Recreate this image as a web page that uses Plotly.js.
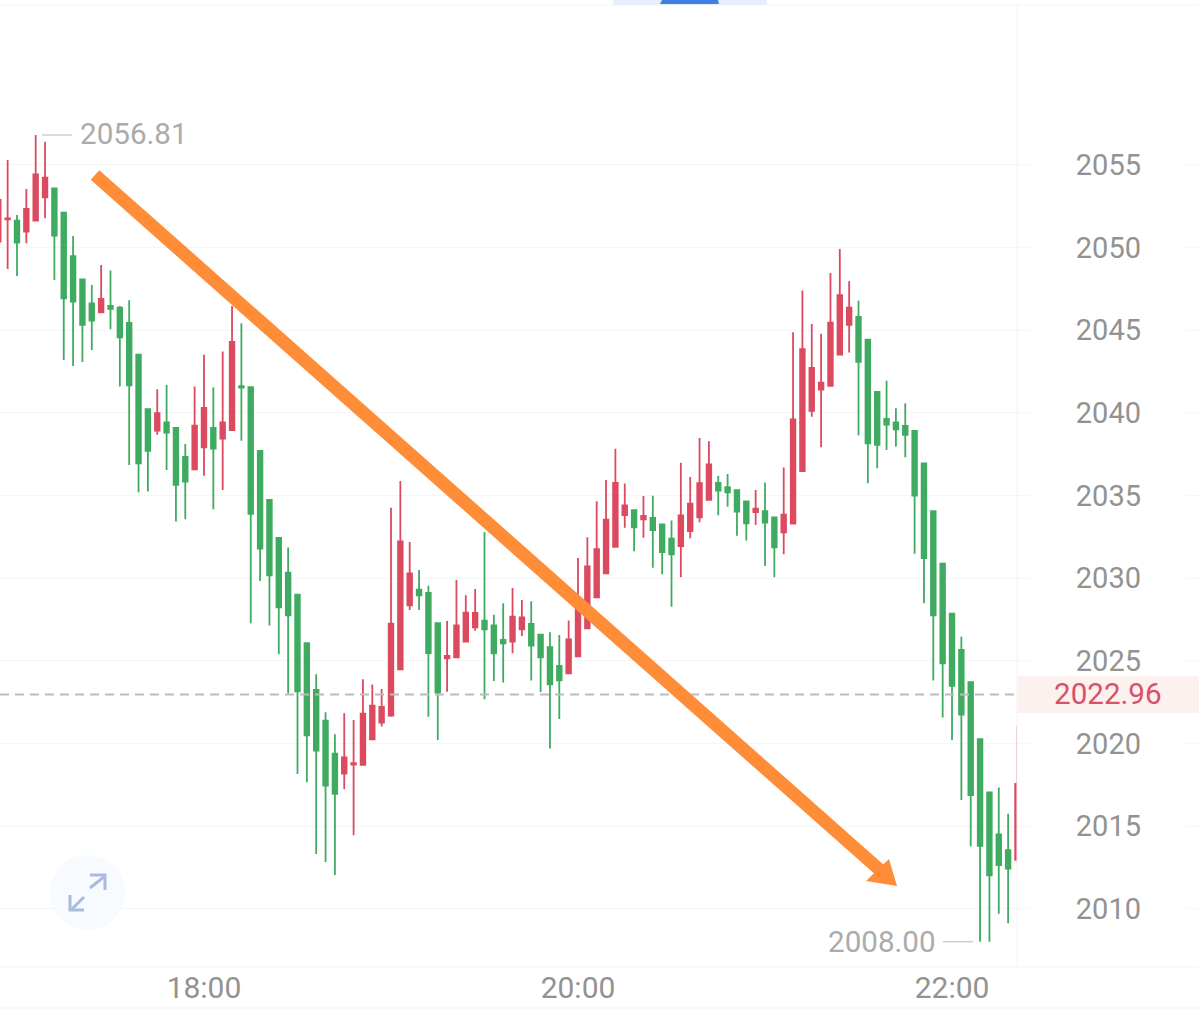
<!DOCTYPE html>
<html>
<head>
<meta charset="utf-8">
<script src="https://cdn.plot.ly/plotly-3.0.1.min.js"></script>
<style>html,body{margin:0;padding:0;background:#fff;overflow:hidden}#chart{width:1199px;height:1011px}</style>
</head>
<body>
<div id="chart"></div>
<script>
const times = ["16:54","16:57","17:00","17:03","17:06","17:09","17:12","17:15","17:18","17:21","17:24","17:27","17:30","17:33","17:36","17:39","17:42","17:45","17:48","17:51","17:54","17:57",
"18:00","18:03","18:06","18:09","18:12","18:15","18:18","18:21","18:24","18:27","18:30","18:33","18:36","18:39","18:42","18:45","18:48","18:51","18:54","18:57",
"19:00","19:03","19:06","19:09","19:12","19:15","19:18","19:21","19:24","19:27","19:30","19:33","19:36","19:39","19:42","19:45","19:48","19:51","19:54","19:57",
"20:00","20:03","20:06","20:09","20:12","20:15","20:18","20:21","20:24","20:27","20:30","20:33","20:36","20:39","20:42","20:45","20:48","20:51","20:54","20:57",
"21:00","21:03","21:06","21:09","21:12","21:15","21:18","21:21","21:24","21:27","21:30","21:33","21:36","21:39","21:42","21:45","21:48","21:51","21:54","21:57",
"22:00","22:03","22:06","22:09","22:12","22:15","22:18","22:21"];
const open = [2050.36,2051.71,2051.63,2050.97,2051.63,2053.04,2053.59,2052.12,2049.49,2048.08,2046.63,2046.09,2046.47,2046.37,2045.44,2043.53,2040.22,2038.93,2039.43,2039.09,2037.34,2036.59,
2037.92,2039.09,2038.45,2038.95,2041.61,2041.55,2037.70,2034.73,2032.43,2030.33,2029.00,2026.06,2023.23,2021.38,2019.38,2018.17,2018.72,2018.70,2020.25,2021.26,
2021.68,2024.48,2028.35,2029.30,2029.10,2027.27,2025.15,2025.21,2026.16,2027.02,2027.43,2027.14,2026.26,2026.16,2026.90,2027.23,2026.58,2025.83,2024.69,2024.24,
2025.27,2026.96,2028.84,2030.29,2031.90,2033.82,2034.12,2033.56,2033.64,2033.25,2032.39,2031.94,2032.85,2033.68,2034.73,2035.77,2035.51,2035.33,2034.65,2034.00,
2034.06,2033.68,2032.77,2033.30,2036.47,2040.12,2041.41,2041.63,2043.52,2045.32,2045.80,2044.43,2041.27,2039.63,2039.43,2039.21,2038.91,2036.95,2034.05,2030.88,
2027.85,2025.66,2023.70,2020.25,2017.03,2014.49,2013.54,2012.95];
const high = [2052.88,2055.30,2051.97,2053.55,2056.81,2056.41,2053.59,2052.12,2050.70,2048.08,2047.74,2048.95,2048.61,2046.47,2046.81,2043.53,2040.22,2041.43,2041.69,2039.09,2038.12,2041.59,
2043.51,2041.55,2043.71,2046.47,2045.42,2041.55,2037.70,2034.73,2032.43,2031.86,2029.00,2026.06,2024.18,2021.88,2020.55,2021.82,2021.42,2023.88,2023.56,2023.29,
2034.26,2035.87,2032.19,2030.49,2029.54,2027.27,2027.41,2029.89,2028.96,2029.34,2032.79,2027.79,2028.48,2029.40,2028.68,2028.60,2026.62,2026.72,2026.56,2027.43,
2031.22,2032.47,2034.65,2035.94,2037.83,2035.73,2034.16,2034.97,2034.99,2033.25,2033.48,2036.98,2036.12,2038.48,2038.29,2036.20,2036.30,2035.33,2034.65,2035.33,
2035.79,2033.72,2036.70,2044.88,2047.40,2045.38,2044.79,2048.46,2049.92,2047.96,2046.79,2044.43,2041.27,2041.95,2040.28,2040.58,2038.91,2036.95,2034.05,2030.88,
2027.85,2026.46,2023.70,2020.25,2017.03,2017.33,2015.74,2021.02];
const low = [2050.36,2048.71,2048.28,2050.26,2051.63,2051.77,2048.04,2043.20,2042.84,2043.08,2043.81,2046.09,2045.06,2041.59,2036.85,2035.20,2035.24,2038.67,2036.55,2033.43,2033.57,2036.59,
2036.19,2034.17,2035.34,2038.95,2038.32,2027.27,2029.83,2027.14,2025.39,2023.03,2018.15,2017.65,2013.31,2012.83,2012.04,2017.23,2014.44,2018.70,2020.25,2021.02,
2021.62,2024.48,2028.07,2028.07,2021.62,2020.21,2023.13,2025.21,2026.16,2026.82,2022.67,2023.78,2023.68,2025.45,2026.50,2023.80,2023.11,2019.69,2021.48,2024.24,
2025.27,2026.96,2028.84,2030.29,2031.90,2033.05,2031.62,2032.45,2030.63,2030.23,2028.27,2030.05,2032.41,2033.38,2034.73,2033.80,2034.32,2032.57,2032.27,2033.21,
2030.73,2030.05,2031.44,2033.30,2036.47,2039.77,2037.92,2041.63,2043.52,2043.65,2038.65,2035.74,2036.65,2037.76,2037.96,2037.31,2031.47,2028.48,2023.80,2021.56,
2020.21,2016.58,2013.76,2008.00,2008.00,2009.69,2009.12,2012.95];
const close = [2052.88,2051.77,2050.30,2052.34,2054.43,2054.23,2050.72,2046.93,2046.73,2045.32,2045.58,2046.89,2046.29,2044.57,2041.67,2036.95,2037.70,2039.98,2038.81,2035.64,2035.84,2039.23,
2040.30,2037.84,2039.43,2044.29,2041.53,2033.89,2031.78,2030.17,2028.23,2027.75,2023.15,2020.49,2019.56,2017.45,2016.94,2019.16,2018.80,2021.80,2022.29,2022.21,
2027.25,2032.23,2030.29,2028.96,2025.47,2023.07,2025.29,2027.14,2027.91,2027.89,2026.90,2025.45,2026.06,2027.67,2027.63,2025.92,2025.21,2023.58,2023.82,2026.30,
2028.38,2030.71,2031.76,2033.54,2035.77,2034.40,2033.07,2033.76,2032.91,2031.58,2031.44,2033.80,2034.50,2035.75,2036.88,2035.29,2035.19,2034.02,2033.31,2034.20,
2033.36,2031.86,2033.84,2039.61,2043.85,2042.72,2041.83,2045.46,2047.13,2046.37,2043.08,2038.16,2038.06,2039.29,2039.01,2038.67,2035.00,2031.21,2027.75,2024.85,
2023.48,2021.74,2016.87,2013.80,2012.01,2012.63,2012.43,2017.55];
const priceTicks = [2055,2050,2045,2040,2035,2030,2025,2020,2015,2010];
const timeTicks = ["18:00","20:00","22:00"];
const lastPrice = 2022.96, highest = 2056.81, lowest = 2008.00;
const day = "2024-01-01 ";
const PW = 1017, PH = 962, TOP = 5;
const fx = p => p / PW;
const fy = p => 1 - (p - TOP) / PH;
const grid = "#f4f6f8";
const paperLine = (x0,y0,x1,y1,color,width,dash) => ({type:"line",xref:"paper",yref:"paper",x0:fx(x0),y0:fy(y0),x1:fx(x1),y1:fy(y1),line:{color,width,dash:dash||"solid"}});
const paperPath = (pts,fill,lineColor,width,layer) => ({type:"path",xref:"paper",yref:"paper",layer:layer||"above",
  path:"M"+pts.map(p=>fx(p[0])+","+fy(p[1])).join(" L")+(fill?" Z":""),fillcolor:fill||"rgba(0,0,0,0)",line:{color:lineColor||"rgba(0,0,0,0)",width:width||0}});
const shapes = [];
priceTicks.forEach(v=>{
  [[1017,1030],[1186,1199]].forEach(r=>shapes.push({type:"line",xref:"paper",yref:"y",x0:fx(r[0]),x1:fx(r[1]),y0:v,y1:v,layer:"below",line:{color:grid,width:1}}));
});
shapes.push(paperLine(1017,5,1017,967,"#f1f3f5",1));
shapes.push(paperLine(0,967,1199,967,"#f1f3f5",1));
shapes.push(paperLine(0,1008,1199,1008,"#f1f3f5",1));
shapes.push(paperLine(0,5,1199,5,"#f3f5f7",1));
shapes.push(paperPath([[613,0],[767,0],[767,5],[613,5]],"#e6effc"));
shapes.push(paperPath([[662,0],[718,0],[719,4],[660,4]],"#3f7fe2"));
shapes.push({type:"rect",xref:"paper",yref:"paper",x0:fx(1018),x1:fx(1199),y0:fy(676),y1:fy(713),layer:"below",fillcolor:"#fdf1f0",line:{width:0}});
shapes.push({type:"line",xref:"paper",yref:"y",x0:0,x1:1,y0:lastPrice,y1:lastPrice,line:{color:"#bcbcbc",width:2,dash:"9px,6px"}});
shapes.push({type:"line",xref:"paper",yref:"y",x0:fx(42),x1:fx(72),y0:highest,y1:highest,line:{color:"#cfcfcf",width:1.5}});
shapes.push({type:"line",xref:"paper",yref:"y",x0:fx(943),x1:fx(973),y0:lowest,y1:lowest,line:{color:"#cfcfcf",width:1.5}});
shapes.push(paperLine(95,175,881,871,"#ff8c37",13));
shapes.push(paperPath([[897,886],[866,881],[889,859]],"#ff8c37"));
shapes.push({type:"circle",xref:"paper",yref:"paper",x0:fx(50),x1:fx(125),y0:fy(855),y1:fy(930),layer:"below",fillcolor:"#f7fafe",line:{width:0}});
shapes.push(paperLine(90,888,105,876,"#a9bbdf",3));
shapes.push(paperPath([[90,875],[105,875],[105,890]],null,"#a9bbdf",3));
shapes.push(paperLine(72,909,84,897,"#a9bbdf",3));
shapes.push(paperPath([[70,895],[70,910],[84,910]],null,"#a9bbdf",3));

const trace = {type:"candlestick",x:times.map(t=>day+t),open,high,low,close,
  increasing:{line:{color:"#dc4a60",width:1.8},fillcolor:"#dc4a60"},
  decreasing:{line:{color:"#3fab60",width:1.8},fillcolor:"#3fab60"},
  whiskerwidth:0,hoverinfo:"skip"};
const label = {family:"Roboto, sans-serif",size:29,color:"#929292"};
const valueFont = c => ({family:"Roboto, sans-serif",size:29.6,color:c});
const layout = {
  width:1199,height:1011,margin:{l:0,r:182,t:5,b:44},
  paper_bgcolor:"#fff",plot_bgcolor:"#fff",showlegend:false,boxgap:0.3,
  font:label,
  xaxis:{type:"date",range:[day+"16:54:33",day+"22:20:51"],rangeslider:{visible:false},
    tickvals:timeTicks.map(t=>day+t),ticktext:timeTicks,showgrid:false,zeroline:false,showline:false,
    ticks:"",ticklabelstandoff:0,tickfont:{family:"Roboto, sans-serif",size:30,color:"#929292"}},
  yaxis:{side:"right",range:[2006.47,2064.68],tickvals:priceTicks,ticktext:priceTicks.map(String),
    showgrid:true,gridcolor:grid,gridwidth:1,zeroline:false,showline:false,
    ticks:"outside",ticklen:52,tickcolor:"rgba(0,0,0,0)",tickfont:label},
  shapes,
  annotations:[
    {xref:"paper",yref:"y",x:fx(78),y:highest,yshift:1,xanchor:"left",yanchor:"middle",text:highest.toFixed(2),showarrow:false,font:valueFont("#ababab")},
    {xref:"paper",yref:"y",x:fx(938),y:lowest,xanchor:"right",yanchor:"middle",text:lowest.toFixed(2),showarrow:false,font:valueFont("#ababab")},
    {xref:"paper",yref:"y",x:fx(1108),y:lastPrice,xanchor:"center",yanchor:"middle",text:lastPrice.toFixed(2),showarrow:false,font:valueFont("#d8506a")}
  ]
};
Plotly.newPlot("chart",[trace],layout,{displayModeBar:false,staticPlot:true});
</script>
</body>
</html>
